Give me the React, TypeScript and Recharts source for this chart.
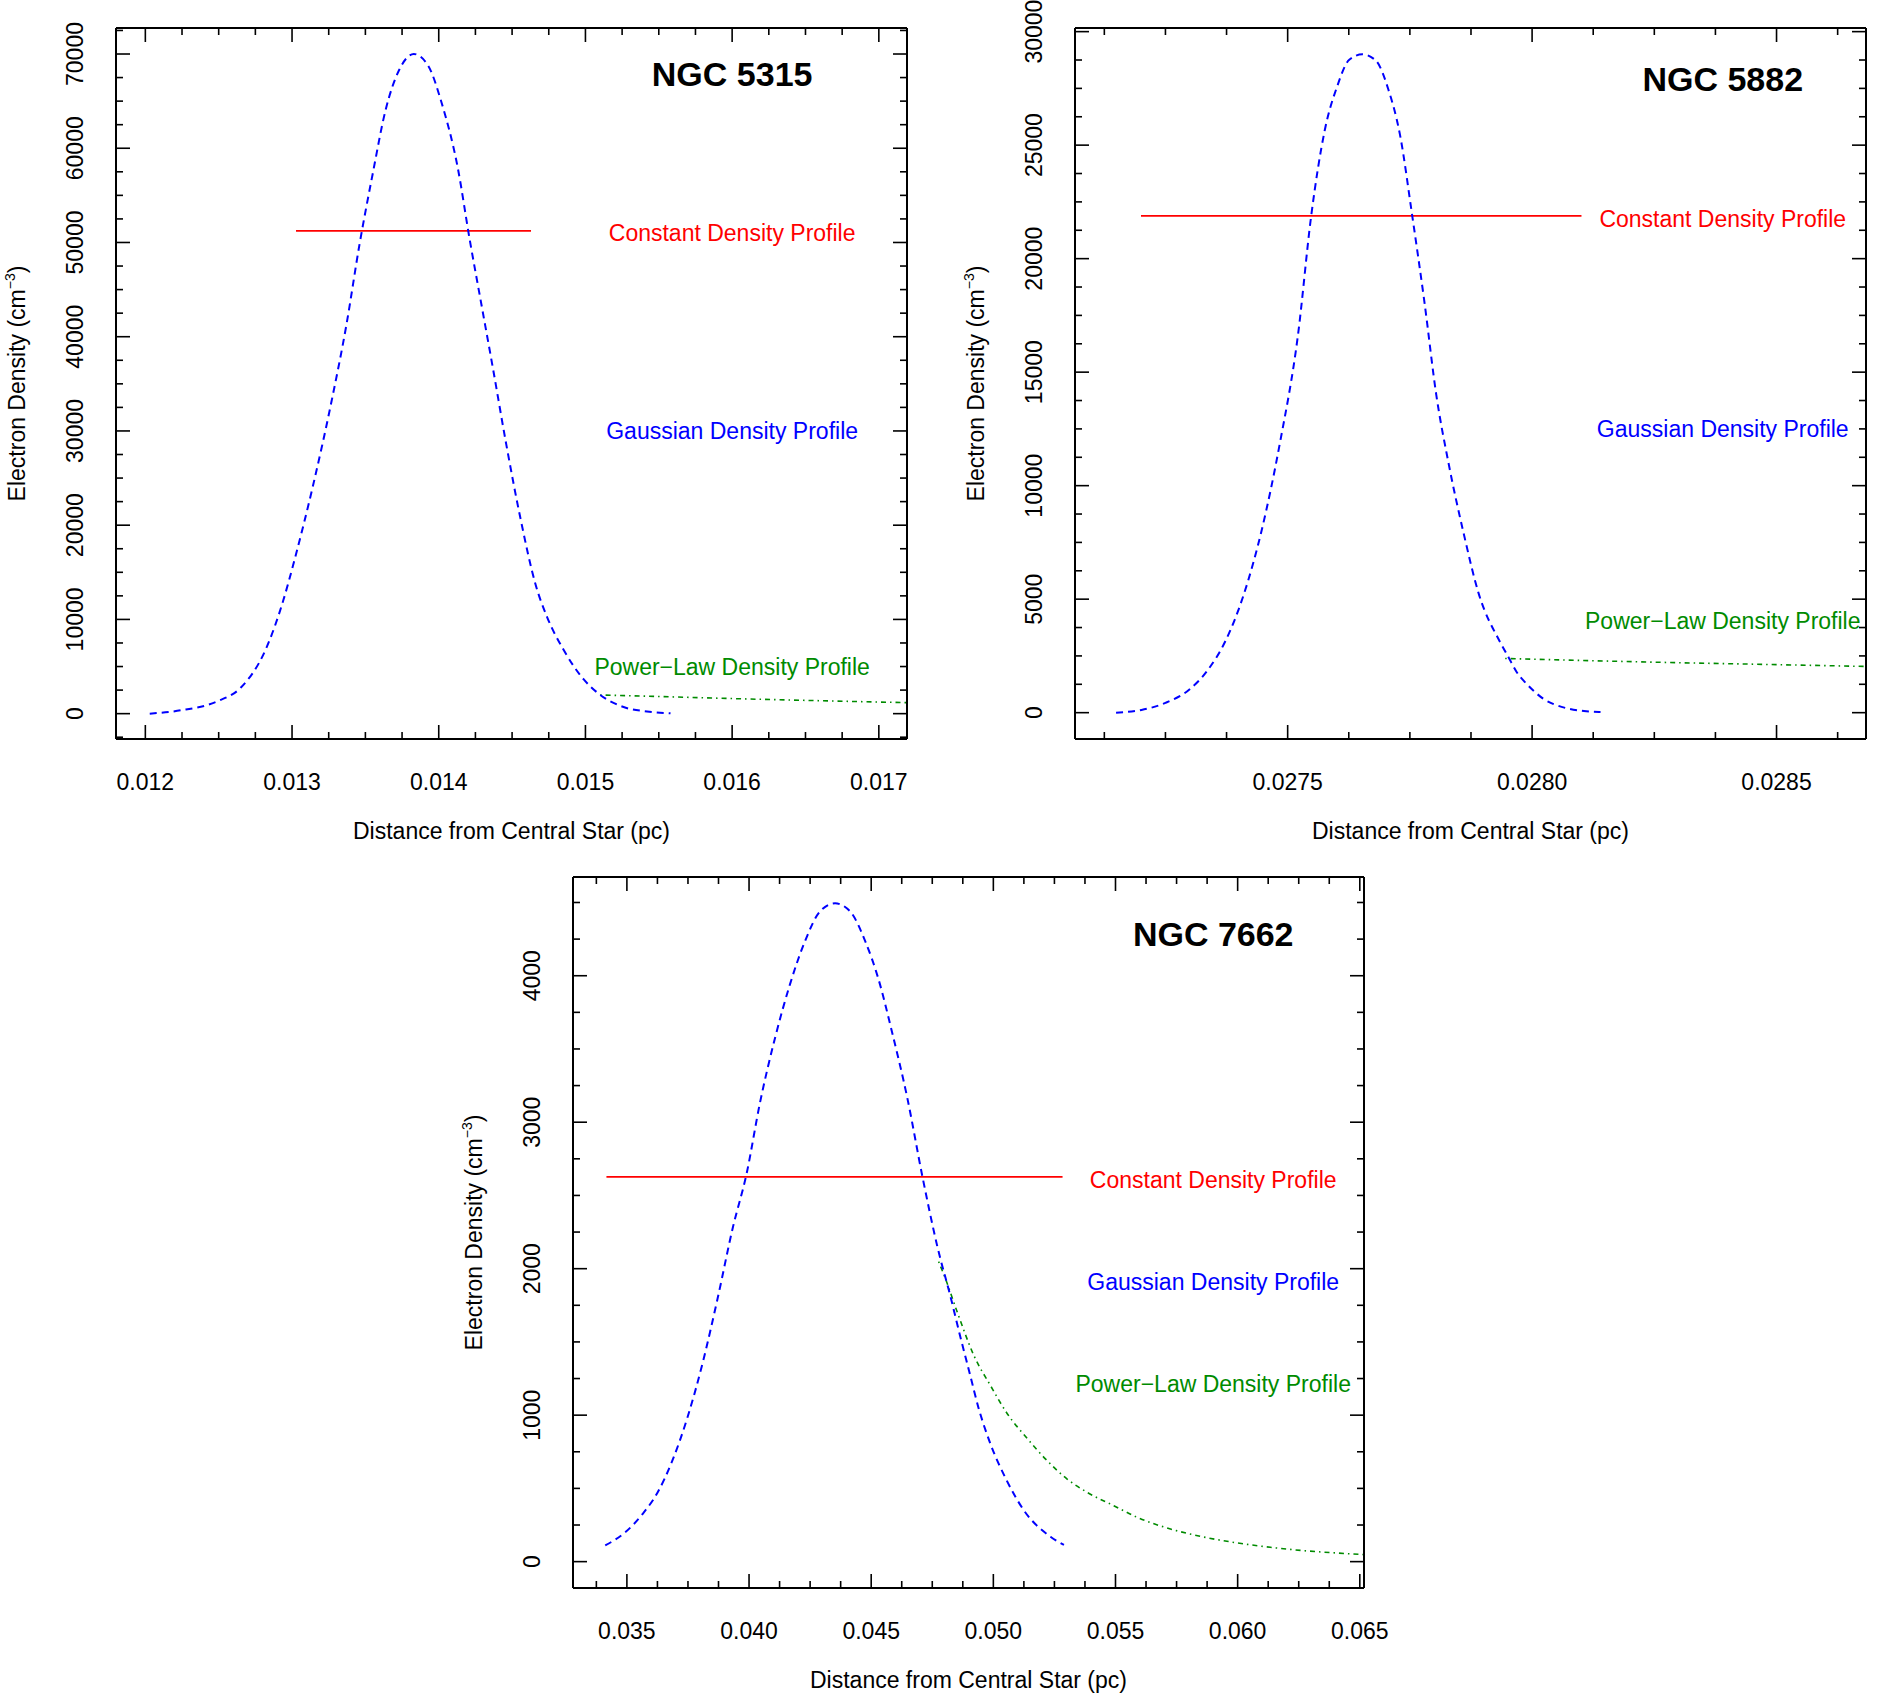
import { ComposedChart, Line, Scatter, XAxis, YAxis } from "recharts";

const FONT = '"Liberation Sans", Arial, Helvetica, sans-serif';
const INK = "#000000";
const BLUE = "#0000ff";
const RED = "#ff0000";
const GREEN = "#008b00";

type Pt = { x: number; y: number };
type Note = { x: number; y: number; text: string; kind: "title" | "const" | "gauss" | "power" };

// ---- NGC 5315 ----
const N5315_X_MAJOR = [0.012, 0.013, 0.014, 0.015, 0.016, 0.017];
const N5315_X_LABELS = ["0.012", "0.013", "0.014", "0.015", "0.016", "0.017"];
const N5315_Y_MAJOR = [0, 10000, 20000, 30000, 40000, 50000, 60000, 70000];
const N5315_Y_LABELS = ["0", "10000", "20000", "30000", "40000", "50000", "60000", "70000"];
const N5315_GAUSS: Pt[] = [
  { x: 0.01203, y: 0 }, { x: 0.01224, y: 350 }, { x: 0.01249, y: 1300 }, { x: 0.01265, y: 2750 },
  { x: 0.01282, y: 6800 }, { x: 0.01294, y: 12000 }, { x: 0.01302, y: 16500 }, { x: 0.01314, y: 24000 },
  { x: 0.01327, y: 33200 }, { x: 0.01337, y: 41200 }, { x: 0.01346, y: 49800 }, { x: 0.01355, y: 57300 },
  { x: 0.01364, y: 64200 }, { x: 0.01373, y: 68300 }, { x: 0.01383, y: 70000 }, { x: 0.01393, y: 68700 },
  { x: 0.01402, y: 64800 }, { x: 0.01413, y: 57900 }, { x: 0.01421, y: 50400 }, { x: 0.01429, y: 43500 },
  { x: 0.01437, y: 36600 }, { x: 0.01446, y: 28600 }, { x: 0.01456, y: 20500 }, { x: 0.01466, y: 13700 },
  { x: 0.01474, y: 10200 }, { x: 0.01485, y: 6800 }, { x: 0.01499, y: 3600 }, { x: 0.0151, y: 2000 },
  { x: 0.01526, y: 700 }, { x: 0.01542, y: 230 }, { x: 0.01558, y: 40 },
];
const N5315_CONST: Pt[] = [{ x: 0.013027, y: 51230 }, { x: 0.014629, y: 51230 }];
const N5315_POWER: Pt[] = [
  { x: 0.0151, y: 1983 }, { x: 0.01553, y: 1803 }, { x: 0.0161, y: 1559 }, { x: 0.01667, y: 1347 }, { x: 0.01719, y: 1167 },
];
const N5315_NOTES: Note[] = [
  { x: 0.016, y: 67900, text: "NGC 5315", kind: "title" },
  { x: 0.016, y: 51000, text: "Constant Density Profile", kind: "const" },
  { x: 0.016, y: 30000, text: "Gaussian Density Profile", kind: "gauss" },
  { x: 0.016, y: 5000, text: "Power\u2212Law Density Profile", kind: "power" },
];

// ---- NGC 5882 ----
const N5882_X_MAJOR = [0.0275, 0.028, 0.0285];
const N5882_X_LABELS = ["0.0275", "0.0280", "0.0285"];
const N5882_Y_MAJOR = [0, 5000, 10000, 15000, 20000, 25000, 30000];
const N5882_Y_LABELS = ["0", "5000", "10000", "15000", "20000", "25000", "30000"];
const N5882_GAUSS: Pt[] = [
  { x: 0.027149, y: 0 }, { x: 0.027201, y: 120 }, { x: 0.02725, y: 430 }, { x: 0.027299, y: 1020 },
  { x: 0.027336, y: 1860 }, { x: 0.027373, y: 3170 }, { x: 0.02741, y: 5190 }, { x: 0.027447, y: 8050 },
  { x: 0.027484, y: 11860 }, { x: 0.027521, y: 16620 }, { x: 0.027548, y: 21860 }, { x: 0.027576, y: 25670 },
  { x: 0.027601, y: 27570 }, { x: 0.027626, y: 28760 }, { x: 0.027653, y: 29000 }, { x: 0.027681, y: 28710 },
  { x: 0.027706, y: 27450 }, { x: 0.02773, y: 25430 }, { x: 0.027755, y: 21860 }, { x: 0.02778, y: 18050 },
  { x: 0.027804, y: 14000 }, { x: 0.027829, y: 11000 }, { x: 0.02786, y: 7900 }, { x: 0.02789, y: 5300 },
  { x: 0.027935, y: 3091 }, { x: 0.027952, y: 2430 }, { x: 0.027969, y: 1772 }, { x: 0.027986, y: 1332 },
  { x: 0.028003, y: 963 }, { x: 0.028024, y: 598 }, { x: 0.028044, y: 378 }, { x: 0.028072, y: 189 },
  { x: 0.028106, y: 70 }, { x: 0.02814, y: 30 },
];
const N5882_CONST: Pt[] = [{ x: 0.0272, y: 21880 }, { x: 0.028101, y: 21880 }];
const N5882_POWER: Pt[] = [
  { x: 0.027945, y: 2388 }, { x: 0.028276, y: 2212 }, { x: 0.02848, y: 2124 }, { x: 0.028683, y: 2036 },
];
const N5882_NOTES: Note[] = [
  { x: 0.02839, y: 27900, text: "NGC 5882", kind: "title" },
  { x: 0.02839, y: 21750, text: "Constant Density Profile", kind: "const" },
  { x: 0.02839, y: 12500, text: "Gaussian Density Profile", kind: "gauss" },
  { x: 0.02839, y: 4050, text: "Power\u2212Law Density Profile", kind: "power" },
];

// ---- NGC 7662 ----
const N7662_X_MAJOR = [0.035, 0.04, 0.045, 0.05, 0.055, 0.06, 0.065];
const N7662_X_LABELS = ["0.035", "0.040", "0.045", "0.050", "0.055", "0.060", "0.065"];
const N7662_Y_MAJOR = [0, 1000, 2000, 3000, 4000];
const N7662_Y_LABELS = ["0", "1000", "2000", "3000", "4000"];
const N7662_GAUSS: Pt[] = [
  { x: 0.034113, y: 111 }, { x: 0.034901, y: 196 }, { x: 0.03564, y: 325 }, { x: 0.036256, y: 472 },
  { x: 0.036872, y: 694 }, { x: 0.037488, y: 989 }, { x: 0.038103, y: 1358 }, { x: 0.038719, y: 1801 },
  { x: 0.039335, y: 2280 }, { x: 0.039901, y: 2649 }, { x: 0.040443, y: 3129 }, { x: 0.041059, y: 3572 },
  { x: 0.041675, y: 3941 }, { x: 0.042291, y: 4236 }, { x: 0.042906, y: 4439 }, { x: 0.043522, y: 4494 },
  { x: 0.044138, y: 4439 }, { x: 0.044754, y: 4236 }, { x: 0.045296, y: 3978 }, { x: 0.045862, y: 3609 },
  { x: 0.046478, y: 3166 }, { x: 0.047094, y: 2631 }, { x: 0.04771, y: 2150 }, { x: 0.04826, y: 1800 },
  { x: 0.04864, y: 1541 }, { x: 0.04901, y: 1300 }, { x: 0.04941, y: 1040 }, { x: 0.04989, y: 800 },
  { x: 0.0505, y: 570 }, { x: 0.05125, y: 350 }, { x: 0.05234, y: 170 }, { x: 0.05289, y: 114 },
];
const N7662_CONST: Pt[] = [{ x: 0.034163, y: 2627 }, { x: 0.052833, y: 2627 }];
const N7662_POWER: Pt[] = [
  { x: 0.04776, y: 2048 }, { x: 0.04805, y: 1927 }, { x: 0.04853, y: 1700 }, { x: 0.04921, y: 1405 },
  { x: 0.04989, y: 1200 }, { x: 0.05057, y: 1010 }, { x: 0.05139, y: 840 }, { x: 0.05214, y: 700 },
  { x: 0.05302, y: 564 }, { x: 0.05384, y: 473 }, { x: 0.05493, y: 382 }, { x: 0.05589, y: 302 },
  { x: 0.05725, y: 223 }, { x: 0.05861, y: 168 }, { x: 0.05997, y: 128 }, { x: 0.06134, y: 98 },
  { x: 0.0627, y: 75 }, { x: 0.06406, y: 59 }, { x: 0.06517, y: 48 },
];
const N7662_NOTES: Note[] = [
  { x: 0.059, y: 4284, text: "NGC 7662", kind: "title" },
  { x: 0.059, y: 2605, text: "Constant Density Profile", kind: "const" },
  { x: 0.059, y: 1911, text: "Gaussian Density Profile", kind: "gauss" },
  { x: 0.059, y: 1210, text: "Power\u2212Law Density Profile", kind: "power" },
];

const NOTE_COLOR = { title: INK, const: RED, gauss: BLUE, power: GREEN };

const W = 943;
const H = 849;
const PW = 791;
const PH = 711;
const TXT = 23;

function stepTicks(domain: [number, number], step: number) {
  const out: number[] = [];
  const k0 = Math.ceil(domain[0] / step - 1e-6);
  const k1 = Math.floor(domain[1] / step + 1e-6);
  for (let k = k0; k <= k1; k++) out.push(k * step);
  return out;
}

function labelFor(v: number, majors: number[], labels: string[], step: number) {
  const i = majors.findIndex((m) => Math.abs(m - v) < step / 100);
  return i < 0 ? null : labels[i];
}

function xTick(side: "bottom" | "top", majors: number[], labels: string[], step: number) {
  return (props: any) => {
    const { x, y, payload } = props;
    const lab = labelFor(payload.value, majors, labels, step);
    const len = lab !== null ? 14 : 7;
    const dir = side === "bottom" ? -1 : 1;
    return (
      <g>
        <line x1={x} x2={x} y1={y} y2={y + dir * len} stroke={INK} strokeWidth={1.6} />
        {side === "bottom" && lab !== null && (
          <text x={x} y={y + 43} textAnchor="middle" dominantBaseline="central" fontFamily={FONT} fontSize={TXT} fill={INK}>
            {lab}
          </text>
        )}
      </g>
    );
  };
}

function yTick(side: "left" | "right", majors: number[], labels: string[], step: number) {
  return (props: any) => {
    const { x, y, payload } = props;
    const lab = labelFor(payload.value, majors, labels, step);
    const len = lab !== null ? 14 : 7;
    const dir = side === "left" ? 1 : -1;
    const tx = x - 41;
    return (
      <g>
        <line x1={x} x2={x + dir * len} y1={y} y2={y} stroke={INK} strokeWidth={1.6} />
        {side === "left" && lab !== null && (
          <text x={tx} y={y} transform={`rotate(-90, ${tx}, ${y})`} textAnchor="middle" dominantBaseline="central" fontFamily={FONT} fontSize={TXT} fill={INK}>
            {lab}
          </text>
        )}
      </g>
    );
  };
}

function NoteShape(props: any) {
  const { cx, cy, payload } = props;
  const title = payload.kind === "title";
  return (
    <text x={cx} y={cy} textAnchor="middle" dominantBaseline="central" fontFamily={FONT}
      fontSize={title ? 34 : TXT} fontWeight={title ? "bold" : "normal"} fill={NOTE_COLOR[payload.kind as Note["kind"]]}>
      {payload.text}
    </text>
  );
}

type PanelProps = {
  left: number;
  top: number;
  ml: number;
  mt: number;
  xDomain: [number, number];
  yDomain: [number, number];
  xMajor: number[];
  xLabels: string[];
  xStep: number;
  yMajor: number[];
  yLabels: string[];
  yStep: number;
  gauss: Pt[];
  constant: Pt[];
  power: Pt[];
  notes: Note[];
};

function Panel(p: PanelProps) {
  const xTicks = stepTicks(p.xDomain, p.xStep);
  const yTicks = stepTicks(p.yDomain, p.yStep);
  // every axis is 1px thick, so the chart margin is the frame offset minus 1
  const margin = { left: p.ml - 1, top: p.mt - 1, right: W - p.ml - PW - 1, bottom: H - p.mt - PH - 1 };
  const axisLine = { stroke: INK, strokeWidth: 2 };
  return (
    <div style={{ position: "absolute", left: p.left, top: p.top, width: W, height: H }}>
      <ComposedChart width={W} height={H} margin={margin}>
        <XAxis xAxisId="b" type="number" dataKey="x" domain={p.xDomain} allowDataOverflow ticks={xTicks} interval={0}
          height={1} tickSize={0} tickMargin={0} tickLine={false} axisLine={axisLine}
          tick={xTick("bottom", p.xMajor, p.xLabels, p.xStep)} />
        <XAxis xAxisId="t" orientation="top" type="number" dataKey="x" domain={p.xDomain} allowDataOverflow ticks={xTicks} interval={0}
          height={1} tickSize={0} tickMargin={0} tickLine={false} axisLine={axisLine}
          tick={xTick("top", p.xMajor, p.xLabels, p.xStep)} />
        <YAxis yAxisId="l" type="number" domain={p.yDomain} allowDataOverflow ticks={yTicks} interval={0}
          width={1} tickSize={0} tickMargin={0} tickLine={false} axisLine={axisLine}
          tick={yTick("left", p.yMajor, p.yLabels, p.yStep)} />
        <YAxis yAxisId="r" orientation="right" type="number" domain={p.yDomain} allowDataOverflow ticks={yTicks} interval={0}
          width={1} tickSize={0} tickMargin={0} tickLine={false} axisLine={axisLine}
          tick={yTick("right", p.yMajor, p.yLabels, p.yStep)} />
        <Line xAxisId="b" yAxisId="l" data={p.constant} dataKey="y" type="linear" stroke={RED} strokeWidth={1.8}
          dot={false} activeDot={false} isAnimationActive={false} />
        <Line xAxisId="b" yAxisId="l" data={p.power} dataKey="y" type="monotone" stroke={GREEN} strokeWidth={1.6}
          strokeDasharray="1.5 4 5 4" dot={false} activeDot={false} isAnimationActive={false} />
        <Line xAxisId="b" yAxisId="l" data={p.gauss} dataKey="y" type="monotone" stroke={BLUE} strokeWidth={2}
          strokeDasharray="7 5" dot={false} activeDot={false} isAnimationActive={false} />
        <Scatter xAxisId="b" yAxisId="l" data={p.notes} dataKey="y" shape={NoteShape} isAnimationActive={false} />
      </ComposedChart>
      <svg width={W} height={H} style={{ position: "absolute", left: 0, top: 0, pointerEvents: "none" }}>
        <text x={p.ml + PW / 2} y={p.mt + PH + 92} textAnchor="middle" dominantBaseline="central" fontFamily={FONT} fontSize={TXT} fill={INK}>
          Distance from Central Star (pc)
        </text>
        <text x={p.ml - 99} y={p.mt + PH / 2} transform={`rotate(-90, ${p.ml - 99}, ${p.mt + PH / 2})`} textAnchor="middle"
          dominantBaseline="central" fontFamily={FONT} fontSize={TXT} fill={INK}>
          Electron Density (cm<tspan fontSize={14} dy={-7}>{"\u22123"}</tspan><tspan dy={7}>)</tspan>
        </text>
      </svg>
    </div>
  );
}

export default function App() {
  return (
    <div style={{ position: "absolute", left: 0, top: 0, width: 1886, height: 1698, background: "#ffffff", overflow: "hidden" }}>
      <Panel left={0} top={0} ml={116} mt={28} xDomain={[0.0118, 0.017192]} yDomain={[-2690, 72760]}
        xMajor={N5315_X_MAJOR} xLabels={N5315_X_LABELS} xStep={0.00025}
        yMajor={N5315_Y_MAJOR} yLabels={N5315_Y_LABELS} yStep={2500}
        gauss={N5315_GAUSS} constant={N5315_CONST} power={N5315_POWER} notes={N5315_NOTES} />
      <Panel left={943} top={0} ml={132} mt={28} xDomain={[0.027065, 0.028683]} yDomain={[-1160, 30160]}
        xMajor={N5882_X_MAJOR} xLabels={N5882_X_LABELS} xStep={0.000125}
        yMajor={N5882_Y_MAJOR} yLabels={N5882_Y_LABELS} yStep={1250}
        gauss={N5882_GAUSS} constant={N5882_CONST} power={N5882_POWER} notes={N5882_NOTES} />
      <Panel left={450} top={849} ml={123} mt={28} xDomain={[0.032794, 0.065172]} yDomain={[-180, 4674]}
        xMajor={N7662_X_MAJOR} xLabels={N7662_X_LABELS} xStep={0.00125}
        yMajor={N7662_Y_MAJOR} yLabels={N7662_Y_LABELS} yStep={250}
        gauss={N7662_GAUSS} constant={N7662_CONST} power={N7662_POWER} notes={N7662_NOTES} />
    </div>
  );
}
